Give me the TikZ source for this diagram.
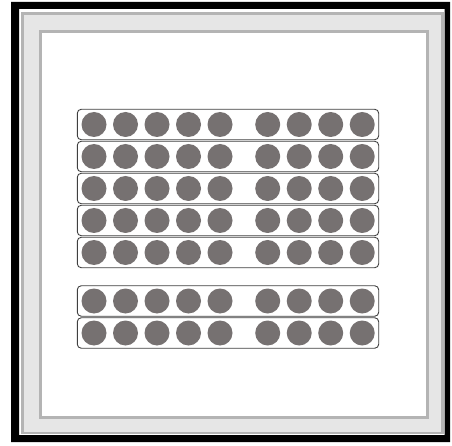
\documentclass[tikz,border=0pt]{standalone}
\definecolor{framegray}{RGB}{180,180,180}
\definecolor{matgray}{RGB}{230,230,230}
\definecolor{beadgray}{RGB}{118,113,113}
\definecolor{rodgray}{RGB}{64,64,64}
\tikzset{
  rack/.style={draw=rodgray, line width=0.9pt, rounded corners=4pt,
    minimum width=301.4pt, minimum height=30.5pt, inner sep=0pt},
  bead/.style={circle, fill=beadgray, minimum size=25pt, inner sep=0pt},
}
\begin{document}
\begin{tikzpicture}[x=1pt, y=-1pt]
    \useasboundingbox (0,0) rectangle (452,446);

    % Black outer frame
    \fill[black, even odd rule] (11,2) rectangle (450,442) (19,9) rectangle (444.5,435);

    % Grey mat
    \draw[line width=2.5pt, draw=framegray, fill=matgray] (22.5,13.5) rectangle (442.5,433);

    % White sheet
    \draw[line width=3pt, draw=framegray, fill=white] (40.5,31.5) rectangle (427.5,417.5);

    % Rows of beads: five and four
    \foreach \r/\y in {1/124.5, 2/156.5, 3/188.5, 4/220.5, 5/252.5, 6/301, 7/333} {
        \node[rack] (row\r) at (228,\y) {};
        \foreach \i in {0,...,4}
            \node[bead] (bead\r-\i) at (94+31.5*\i,\y) {};
        \foreach \i in {5,...,8}
            \node[bead] (bead\r-\i) at (110.2+31.5*\i,\y) {};
    }
\end{tikzpicture}
\end{document}
